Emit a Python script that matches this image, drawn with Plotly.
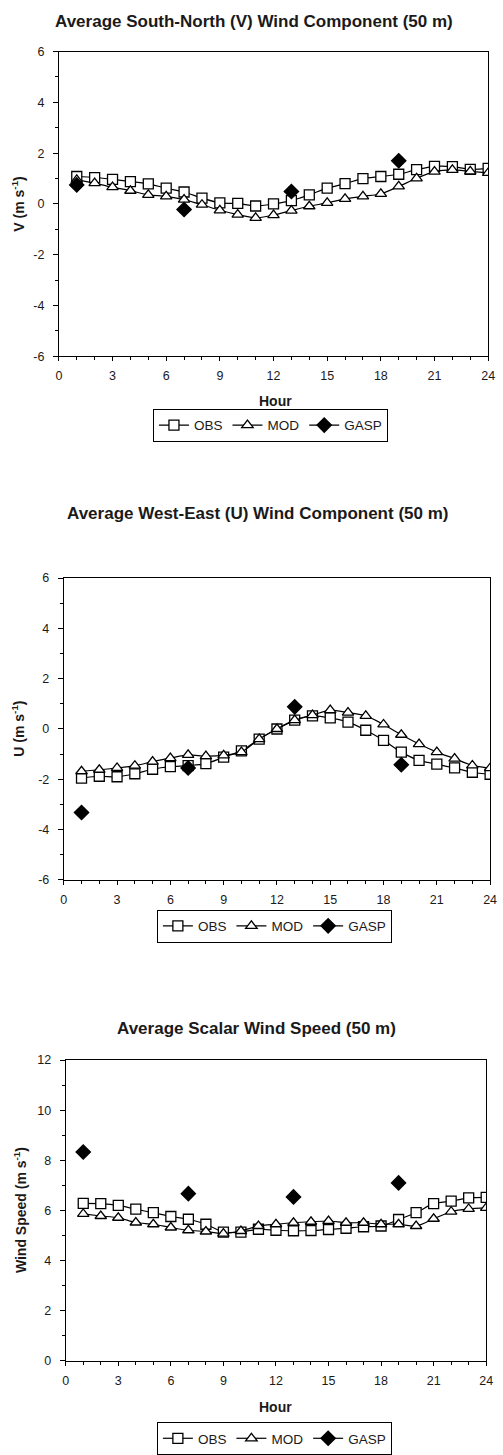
import plotly.graph_objects as go

W, H = 503, 1455

HOURS = list(range(1, 25))
X_TICKS = [0, 3, 6, 9, 12, 15, 18, 21, 24]
Y_TICKS_UV = [-6, -4, -2, 0, 2, 4, 6]
Y_TICKS_S = [0, 2, 4, 6, 8, 10, 12]

# Panel 1: South-North (V) component
V_OBS = [1.08, 1.04, 0.97, 0.88, 0.79, 0.62, 0.47, 0.23, 0.04, 0.02, -0.08, 0.0,
         0.13, 0.36, 0.62, 0.80, 1.00, 1.08, 1.17, 1.35, 1.48, 1.47, 1.36, 1.40]
V_MOD = [0.95, 0.82, 0.66, 0.52, 0.36, 0.30, 0.17, -0.03, -0.25, -0.42, -0.55, -0.44,
         -0.26, -0.09, 0.04, 0.20, 0.30, 0.40, 0.69, 1.01, 1.27, 1.34, 1.28, 1.22]
V_GASP = [0.75, None, None, None, None, None, -0.22, None, None, None, None, None,
          0.49, None, None, None, None, None, 1.70, None, None, None, None, None]

# Panel 2: West-East (U) component
U_OBS = [-1.95, -1.88, -1.90, -1.78, -1.60, -1.50, -1.46, -1.38, -1.12, -0.87, -0.40, 0.0,
         0.35, 0.52, 0.44, 0.27, -0.05, -0.45, -0.92, -1.25, -1.40, -1.55, -1.72, -1.80]
U_MOD = [-1.68, -1.62, -1.55, -1.46, -1.30, -1.16, -1.03, -1.08, -1.05, -0.92, -0.40, 0.0,
         0.35, 0.55, 0.75, 0.65, 0.52, 0.18, -0.23, -0.60, -0.92, -1.18, -1.45, -1.56]
U_GASP = [-3.32, None, None, None, None, None, -1.55, None, None, None, None, None,
          0.88, None, None, None, None, None, -1.42, None, None, None, None, None]

# Panel 3: scalar wind speed
S_OBS = [6.28, 6.27, 6.20, 6.05, 5.91, 5.76, 5.65, 5.45, 5.14, 5.14, 5.25, 5.21,
         5.19, 5.20, 5.24, 5.29, 5.35, 5.38, 5.64, 5.91, 6.27, 6.37, 6.50, 6.52]
S_MOD = [5.86, 5.78, 5.71, 5.52, 5.45, 5.32, 5.21, 5.16, 5.08, 5.18, 5.38, 5.45,
         5.51, 5.55, 5.58, 5.51, 5.51, 5.45, 5.45, 5.38, 5.67, 5.95, 6.06, 6.10]
S_GASP = [8.33, None, None, None, None, None, 6.67, None, None, None, None, None,
          6.54, None, None, None, None, None, 7.10, None, None, None, None, None]

SERIES = ["OBS", "MOD", "GASP"]
TITLES = ["Average South-North (V) Wind Component (50 m)",
          "Average West-East (U) Wind Component (50 m)",
          "Average Scalar Wind Speed (50 m)"]
Y_TITLES = ["V (m s<sup>-1</sup>)", "U (m s<sup>-1</sup>)", "Wind Speed (m s<sup>-1</sup>)"]
X_TITLE = "Hour"
Y_RANGES = [(-6, 6), (-6, 6), (0, 12)]
Y_TICKS = [Y_TICKS_UV, Y_TICKS_UV, Y_TICKS_S]

PANEL_DATA = [(V_OBS, V_MOD, V_GASP), (U_OBS, U_MOD, U_GASP), (S_OBS, S_MOD, S_GASP)]

# geometry in pixels: x0, x1, ytop, ybot
GEOM = [(57, 495, 45, 353), (62, 497, 577, 882), (64, 493, 1064, 1368)]
TITLE_POS = [(256, 15), (260, 512), (259, 1032)]
YT_POS = [15, 15, 18]
HOUR_POS = [(278, 398), None, (278, 1415)]
LEG_POS = [(153, 406), (157, 912), (157, 1430)]

FONT = "Liberation Sans, Arial, sans-serif"
INK = "#1a1a1a"


def px(x):
    return x / W


def py(y):
    return 1 - y / H


fig = go.Figure()

STYLES = {
    "OBS": dict(symbol="square", size=10),
    "MOD": dict(symbol="triangle-up", size=10),
    "GASP": dict(symbol="diamond", size=11),
}

for i, data in enumerate(PANEL_DATA):
    n = "" if i == 0 else str(i + 1)
    for name, ys in zip(SERIES, data):
        st = STYLES[name]
        filled = name == "GASP"
        fig.add_trace(go.Scatter(
            x=HOURS, y=ys, name=name,
            mode="lines+markers",
            xaxis="x" + n, yaxis="y" + n,
            legend="legend" + n,
            connectgaps=False,
            line=dict(color="black", width=1.2, shape="spline", smoothing=0.8),
            marker=dict(symbol=st["symbol"], size=st["size"],
                        color="black" if filled else "white",
                        line=dict(color="black", width=1.3)),
            showlegend=True,
        ))

layout = dict(
    width=W, height=H,
    margin=dict(l=0, r=0, t=0, b=0),
    paper_bgcolor="white", plot_bgcolor="white",
    font=dict(family=FONT, color=INK, size=12),
    annotations=[],
)

for i in range(3):
    n = "" if i == 0 else str(i + 1)
    x0, x1, yt, yb = GEOM[i]
    layout["xaxis" + n] = dict(
        domain=[px(x0), px(x1)], anchor="y" + n,
        range=[0, 24], tickvals=X_TICKS, ticktext=[str(v) for v in X_TICKS],
        ticks="outside", ticklen=4, tickwidth=1, tickcolor="black",
        minor=dict(dtick=1, tick0=0, ticks="outside", ticklen=3, tickcolor="black"),
        showline=True, linecolor="black", linewidth=1, mirror=True,
        showgrid=False, zeroline=False,
        tickfont=dict(size=12.5, color=INK), ticklabelstandoff=4,
    )
    layout["yaxis" + n] = dict(
        domain=[py(yb), py(yt)], anchor="x" + n,
        range=list(Y_RANGES[i]),
        tickvals=Y_TICKS[i], ticktext=[str(v) for v in Y_TICKS[i]],
        ticks="outside", ticklen=5, tickwidth=1, tickcolor="black",
        minor=dict(dtick=1, ticks="outside", ticklen=3, tickcolor="black"),
        showline=True, linecolor="black", linewidth=1, mirror=True,
        showgrid=False, zeroline=False,
        tickfont=dict(size=12.5, color=INK), ticklabelstandoff=6,
    )
    lx, ly = LEG_POS[i]
    layout["legend" + n] = dict(
        x=px(lx), y=py(ly), xanchor="left", yanchor="top",
        orientation="h", bordercolor="black", borderwidth=1,
        bgcolor="white", font=dict(size=13.5, color=INK),
        tracegroupgap=0, itemwidth=30,
    )
    tx, ty = TITLE_POS[i]
    layout["annotations"].append(dict(
        x=px(tx), y=py(ty), xref="paper", yref="paper", showarrow=False,
        text="<b>%s</b>" % TITLES[i], font=dict(size=17, color=INK),
        xanchor="center", yanchor="middle"))
    layout["annotations"].append(dict(
        x=px(YT_POS[i]), y=py((yt + yb) / 2), xref="paper", yref="paper",
        showarrow=False, textangle=-90,
        text="<b>%s</b>" % Y_TITLES[i], font=dict(size=14, color=INK),
        xanchor="center", yanchor="middle"))
    if HOUR_POS[i]:
        hx, hy = HOUR_POS[i]
        layout["annotations"].append(dict(
            x=px(hx), y=py(hy), xref="paper", yref="paper", showarrow=False,
            text="<b>%s</b>" % X_TITLE, font=dict(size=14, color=INK),
            xanchor="center", yanchor="middle"))

fig.update_layout(**layout)
fig.write_html("out.html")
